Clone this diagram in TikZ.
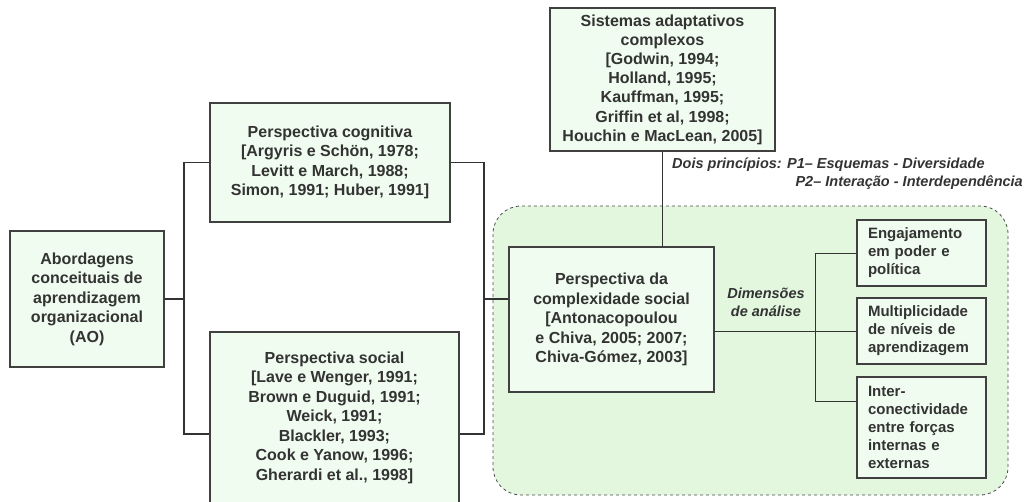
\documentclass[tikz,border=0pt]{standalone}
\usepackage{fontspec}
\setmainfont{Liberation Sans}
\begin{document}
\begin{tikzpicture}[x=1pt,y=-1pt,
  txt/.style={text=black!80},
  box/.style={draw=black!75, line width=1.1pt, fill=boxfill, inner sep=0pt, align=center, txt,
    font=\fontsize{16}{19.5}\selectfont\bfseries},
  sbox/.style={draw=black!75, line width=1.1pt, fill=boxfill, inner ysep=0pt, inner xsep=11pt,
    text width=107pt, align=left, txt, font=\fontsize{15}{18}\selectfont\bfseries},
  conn/.style={draw=black!80, line width=1.3pt},
  lab/.style={txt, inner sep=0pt, font=\fontsize{14.5}{18}\selectfont\bfseries\itshape}]
\definecolor{boxfill}{HTML}{F0FCF0}
\definecolor{regfill}{HTML}{E2F7DE}
\useasboundingbox (0,0) rectangle (1027,501);
% dashed region
\draw[dashed, draw=black!70, line width=0.8pt, fill=regfill, rounded corners=28pt] (493,206) rectangle (1008,495);
% nodes
\node[box, minimum width=154pt, minimum height=136pt] (ao) at (87,299)
  {Abordagens\\conceituais de\\aprendizagem\\organizacional\\(AO)};
\node[box, minimum width=240pt, minimum height=119pt] (cog) at (330,162.5)
  {Perspectiva cognitiva\\{[}Argyris e Schön, 1978;\\Levitt e March, 1988;\\Simon, 1991; Huber, 1991{]}};
\node[box, minimum width=249pt, minimum height=171pt] (soc) at (334.5,417.5)
  {Perspectiva social\\{[}Lave e Wenger, 1991;\\Brown e Duguid, 1991;\\Weick, 1991;\\Blackler, 1993;\\Cook e Yanow, 1996;\\Gherardi et al., 1998{]}};
\node[box, minimum width=225pt, minimum height=143pt, font=\fontsize{16}{19.2}\selectfont\bfseries] (sis) at (662.5,79.5)
  {Sistemas adaptativos\\complexos\\{[}Godwin, 1994;\\Holland, 1995;\\Kauffman, 1995;\\Griffin et al, 1998;\\Houchin e MacLean, 2005{]}};
\node[box, minimum width=205pt, minimum height=145pt] (comp) at (611.5,319.5)
  {Perspectiva da\\complexidade social\\{[}Antonacopoulou\\e Chiva, 2005; 2007;\\Chiva-Gómez, 2003{]}};
\node[sbox, minimum height=66pt] (eng) at (921.5,253)
  {Engajamento\\em poder e\\política};
\node[sbox, minimum height=66pt] (mult) at (921.5,331)
  {Multiplicidade\\de níveis de\\aprendizagem};
\node[sbox, minimum height=101pt] (inter) at (921.5,427.5)
  {Inter-\\conectividade\\entre forças\\internas e\\externas};
% labels
\node[lab, anchor=west] (p1) at (672,165) {Dois princípios: P1– Esquemas - Diversidade};
\node[lab, anchor=east] (p2) at (1023,183) {P2– Interação - Interdependência};
\node[lab, align=center] (dim) at (766,302) {Dimensões\\de análise};
% connectors
\coordinate (bl) at (184,299);
\coordinate (br) at (484,299);
\coordinate (bd) at (815,331);
\draw[conn] (ao.east) -- (bl);
\draw[conn] (cog.west) -| (bl) |- (soc.west |- 0,434);
\draw[conn] (cog.east) -| (br) |- (soc.east |- 0,434);
\draw[conn] (br) -- (comp.west |- br);
\draw[conn] (sis.south) -- (comp.north -| sis.south);
\draw[conn, line width=0.9pt] (comp.east |- mult.west) -- (mult.west);
\draw[conn, line width=0.9pt] (eng.west) -| (bd) |- (inter.west |- 0,401);
\end{tikzpicture}
\end{document}
